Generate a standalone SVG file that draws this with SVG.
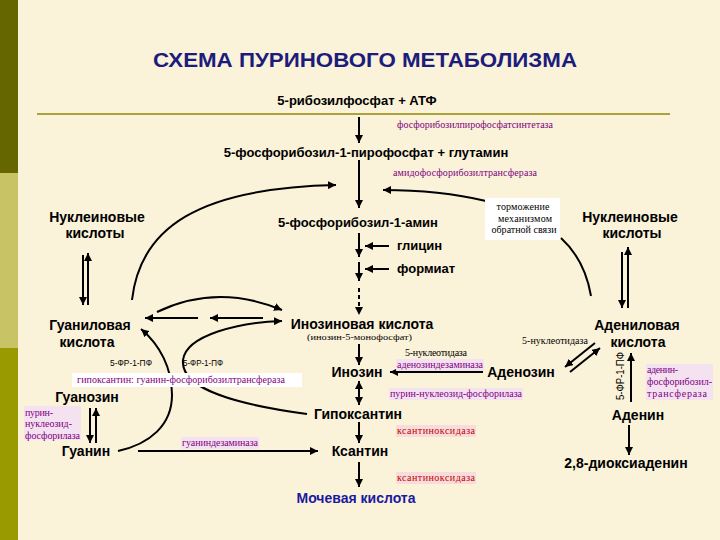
<svg xmlns="http://www.w3.org/2000/svg" width="720" height="540" viewBox="0 0 720 540">
<defs>
<marker id="ah" markerUnits="userSpaceOnUse" markerWidth="9" markerHeight="8" refX="8" refY="4" orient="auto"><path d="M0,0 L8,4 L0,8 z" fill="#000"/></marker>
<marker id="ahs" markerUnits="userSpaceOnUse" markerWidth="9" markerHeight="8" refX="8" refY="4" orient="auto-start-reverse"><path d="M0,0 L8,4 L0,8 z" fill="#000"/></marker>
<style>
.n{font-family:"Liberation Sans",Arial,sans-serif;font-weight:bold;font-size:14px;fill:#000}
.m{font-family:"Liberation Sans",Arial,sans-serif;font-weight:bold;font-size:13px;fill:#000}
.e{font-family:"Liberation Serif","Times New Roman",serif;font-size:10px;fill:#800080}
.k{font-family:"Liberation Serif","Times New Roman",serif;font-size:10px;fill:#000}
.r{font-family:"Liberation Serif","Times New Roman",serif;font-size:10px;fill:#c00000}
.f{font-family:"Liberation Sans",Arial,sans-serif;font-size:10px;fill:#000}
.c{fill:none;stroke:#000;stroke-width:2}
.hl{fill:#f4e2f0}
.hr{fill:#f8dcdc}
</style>
</defs>
<rect x="0" y="0" width="720" height="540" fill="#faf2d9"/>
<rect x="0" y="0" width="18" height="173" fill="#666600"/>
<rect x="0" y="173" width="18" height="175" fill="#c8c466"/>
<rect x="0" y="348" width="18" height="192" fill="#999900"/>
<line x1="37" y1="114" x2="670" y2="114" stroke="#aaa23a" stroke-width="2"/>
<text x="365" y="67" text-anchor="middle" textLength="424" lengthAdjust="spacingAndGlyphs" font-family="'Liberation Sans',Arial,sans-serif" font-weight="bold" font-size="20" fill="#1c1c7c">СХЕМА ПУРИНОВОГО МЕТАБОЛИЗМА</text>

<g id="connectors">
<line class="c" x1="359" y1="117" x2="359" y2="143" marker-end="url(#ah)"/>
<line class="c" x1="359" y1="160" x2="359" y2="208" marker-end="url(#ah)"/>
<line class="c" x1="359" y1="233" x2="359" y2="257" marker-end="url(#ah)"/>
<line class="c" x1="359" y1="262" x2="359" y2="281" marker-end="url(#ah)"/>
<line class="c" x1="359" y1="288" x2="359" y2="315" stroke-dasharray="4 3" marker-end="url(#ah)"/>
<line class="c" x1="389" y1="246" x2="365" y2="246" marker-end="url(#ah)"/>
<line class="c" x1="389" y1="269" x2="365" y2="269" marker-end="url(#ah)"/>
<path class="c" d="M486,201 Q440,190 383,190" marker-end="url(#ah)"/>
<path class="c" d="M561,238 Q585,260 591,296"/>
<path class="c" d="M132,300 C140,228 198,188 336,185" marker-end="url(#ah)"/>
<line class="c" x1="83" y1="255" x2="83" y2="305" marker-end="url(#ah)"/>
<line class="c" x1="88" y1="305" x2="88" y2="253" marker-end="url(#ah)"/>
<line class="c" x1="622" y1="252" x2="622" y2="308" marker-end="url(#ah)"/>
<line class="c" x1="628" y1="308" x2="628" y2="247" marker-end="url(#ah)"/>
<path class="c" d="M157,312 Q217,283 282,310" marker-end="url(#ah)"/>
<line class="c" x1="198" y1="318" x2="145" y2="318" marker-end="url(#ah)"/>
<line class="c" x1="263" y1="318" x2="210" y2="318" marker-end="url(#ah)"/>
<path class="c" d="M307,414 C240,405 180,390 183,360 C186,335 240,322 282,321" marker-end="url(#ah)"/>
<path class="c" d="M118,451 C150,444 172,425 172,395 C172,368 160,345 141,329" marker-end="url(#ah)"/>
<line class="c" x1="359" y1="344" x2="359" y2="365" marker-end="url(#ah)"/>
<line class="c" x1="483" y1="372" x2="390" y2="372" marker-end="url(#ah)"/>
<line class="c" x1="595" y1="343" x2="565" y2="367" marker-end="url(#ah)"/>
<line class="c" x1="570" y1="372" x2="600" y2="348" marker-end="url(#ah)"/>
<line class="c" x1="359" y1="381" x2="359" y2="405" marker-start="url(#ahs)" marker-end="url(#ah)"/>
<line class="c" x1="359" y1="422" x2="359" y2="443" marker-end="url(#ah)"/>
<line class="c" x1="359" y1="462" x2="359" y2="487" marker-end="url(#ah)"/>
<line class="c" x1="138" y1="451" x2="318" y2="451" marker-end="url(#ah)"/>
<line class="c" x1="90" y1="408" x2="90" y2="443" marker-end="url(#ah)"/>
<line class="c" x1="96" y1="443" x2="96" y2="408" marker-end="url(#ah)"/>
<line class="c" x1="631" y1="402" x2="631" y2="353" marker-end="url(#ah)"/>
<line class="c" x1="629" y1="425" x2="629" y2="455" marker-end="url(#ah)"/>
</g>

<g id="ribose"><text class="m" x="357" y="105" text-anchor="middle">5-рибозилфосфат + АТФ</text></g>
<g id="enz-prpps"><text class="e" x="397" y="128" textLength="156">фосфорибозилпирофосфатсинтетаза</text></g>
<g id="prpp"><text class="m" x="366" y="157" text-anchor="middle">5-фосфорибозил-1-пирофосфат + глутамин</text></g>
<g id="enz-amido"><text class="e" x="393" y="176" textLength="144">амидофосфорибозилтрансфераза</text></g>
<g id="nuc-left"><text class="n" x="97" y="222" text-anchor="middle">Нуклеиновые</text><text class="n" x="95" y="238" text-anchor="middle">кислоты</text></g>
<g id="pra"><text class="m" x="358" y="227" text-anchor="middle">5-фосфорибозил-1-амин</text></g>
<g id="feedback"><rect x="485" y="198" width="75" height="42" fill="#fff"/>
<text class="k" x="523" y="210" text-anchor="middle" textLength="53">торможение</text>
<text class="k" x="525" y="222" text-anchor="middle" textLength="54">механизмом</text>
<text class="k" x="524" y="233" text-anchor="middle" textLength="65">обратной связи</text></g>
<g id="nuc-right"><text class="n" x="630" y="222" text-anchor="middle">Нуклеиновые</text><text class="n" x="632" y="238" text-anchor="middle">кислоты</text></g>
<g id="glycine"><text class="m" x="397" y="250">глицин</text></g>
<g id="formate"><text class="m" x="397" y="273">формиат</text></g>
<g id="gmp"><text class="n" x="90" y="330" text-anchor="middle">Гуаниловая</text><text class="n" x="87" y="347" text-anchor="middle">кислота</text></g>
<g id="imp"><text class="n" x="362" y="329" text-anchor="middle">Инозиновая кислота</text>
<text class="k" x="307" y="340" textLength="105" lengthAdjust="spacingAndGlyphs" font-size="8.5" style="font-size:8.5px">(инозин-5-монофосфат)</text></g>
<g id="amp"><text class="n" x="637" y="330" text-anchor="middle">Адениловая</text><text class="n" x="638" y="347" text-anchor="middle">кислота</text></g>
<g id="prpp-left"><text class="f" x="110" y="366" textLength="42" lengthAdjust="spacingAndGlyphs" style="font-size:9px">5-ФР-1-ПФ</text></g>
<g id="prpp-right"><text class="f" x="183" y="366" textLength="40" lengthAdjust="spacingAndGlyphs" style="font-size:9px">5-ФР-1-ПФ</text></g>
<g id="enz-hgprt"><rect x="72" y="373" width="230" height="14" fill="#fff"/><text class="e" x="77" y="383" textLength="208">гипоксантин: гуанин-фосфорибозилтрансфераза</text></g>
<g id="enz-5nt-mid"><text class="k" x="405" y="356" textLength="62">5-нуклеотидаза</text></g>
<g id="enz-ada"><rect class="hl" x="396" y="359" width="88" height="12"/><text class="e" x="397" y="368" textLength="86">аденозиндезаминаза</text></g>
<g id="enz-5nt-right"><text class="k" x="522" y="344" textLength="66">5-нуклеотидаза</text></g>
<g id="inosine"><text class="n" x="357" y="377" text-anchor="middle">Инозин</text></g>
<g id="adenosine"><text class="n" x="521" y="377" text-anchor="middle">Аденозин</text></g>
<g id="enz-pnp"><rect class="hl" x="389" y="388" width="134" height="12"/><text class="e" x="390" y="397" textLength="132">пурин-нуклеозид-фосфорилаза</text></g>
<g id="enz-aprt"><rect class="hl" x="646" y="364" width="67" height="36"/>
<text class="e" x="647" y="373" textLength="31">аденин-</text>
<text class="e" x="647" y="385" textLength="65">фосфорибозил-</text>
<text class="e" x="647" y="397" textLength="60">трансфераза</text></g>
<g id="prpp-vert"><text class="f" transform="translate(624,376) rotate(-90)" text-anchor="middle" textLength="48" lengthAdjust="spacingAndGlyphs">5-ФР-1-ПФ</text></g>
<g id="adenine"><text class="n" x="638" y="420" text-anchor="middle">Аденин</text></g>
<g id="guanosine"><text class="n" x="87" y="402" text-anchor="middle">Гуанозин</text></g>
<g id="enz-pnp-left"><rect class="hl" x="24" y="406" width="57" height="34"/>
<text class="e" x="25" y="416" textLength="28">пурин-</text>
<text class="e" x="25" y="427" textLength="47">нуклеозид-</text>
<text class="e" x="25" y="439" textLength="55">фосфорилаза</text></g>
<g id="guanine"><text class="n" x="86" y="456" text-anchor="middle">Гуанин</text></g>
<g id="enz-gda"><rect class="hl" x="181" y="437" width="78" height="12"/><text class="e" x="182" y="446" textLength="76">гуаниндезаминаза</text></g>
<g id="hypoxanthine"><text class="n" x="358" y="419" text-anchor="middle">Гипоксантин</text></g>
<g id="enz-xo1"><rect class="hr" x="396" y="425" width="80" height="12"/><text class="r" x="397" y="434" textLength="78">ксантиноксидаза</text></g>
<g id="xanthine"><text class="n" x="360" y="456" text-anchor="middle">Ксантин</text></g>
<g id="enz-xo2"><rect class="hr" x="396" y="472" width="80" height="12"/><text class="r" x="397" y="481" textLength="78">ксантиноксидаза</text></g>
<g id="uric"><text class="n" x="356" y="503" text-anchor="middle" style="fill:#1a1aa0">Мочевая кислота</text></g>
<g id="dioxyadenine"><text class="n" x="626" y="468" text-anchor="middle">2,8-диоксиаденин</text></g>
</svg>
